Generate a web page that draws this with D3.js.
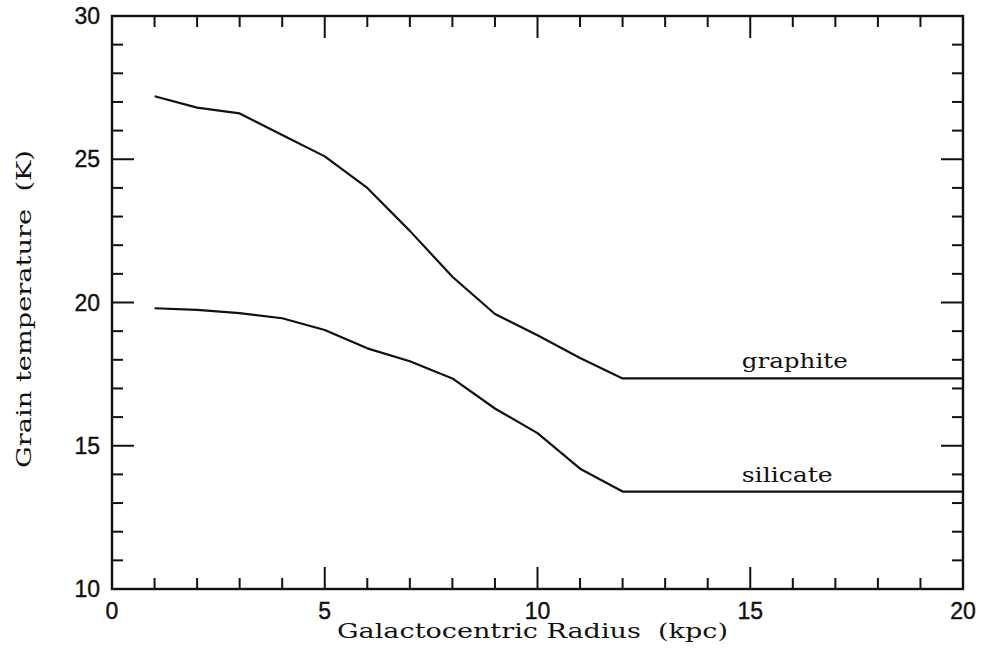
<!DOCTYPE html>
<html><head><meta charset="utf-8">
<script src="https://cdn.jsdelivr.net/npm/d3@7"></script>
<style>body{margin:0;background:#fff}svg{display:block}</style>
</head><body>
<svg id="c" width="982" height="653"></svg>
<script>
const radius = [1,2,3,4,5,6,7,8,9,10,11,12,20];
const graphite = [27.2,26.8,26.6,25.85,25.1,24.0,22.5,20.9,19.6,18.86,18.06,17.35,17.35];
const silicate = [19.8,19.74,19.63,19.45,19.04,18.4,17.95,17.35,16.3,15.44,14.2,13.4,13.4];
const xTicks = [0,5,10,15,20];
const yTicks = [10,15,20,25,30];
const seriesLabels = [{name:"graphite", x:14.8, y:17.35, w:106}, {name:"silicate", x:14.8, y:13.4, w:91}];

const svg = d3.select("#c");
const L=112, R=963, T=16, B=589;
const x = d3.scaleLinear().domain([0,20]).range([L,R]);
const y = d3.scaleLinear().domain([10,30]).range([B,T]);
const serif = "'DejaVu Serif', serif";
const sans = "'Liberation Sans', Arial, sans-serif";
const ink = "#111";

// frame
svg.append("rect").attr("x",L).attr("y",T).attr("width",R-L).attr("height",B-T)
  .attr("fill","none").attr("stroke",ink).attr("stroke-width",2.4);

const xMinor = d3.range(0,21,1), yMinor = d3.range(10,31,1);
xMinor.forEach(v=>{
  const len = v%5===0?22:11;
  svg.append("line").attr("x1",x(v)).attr("x2",x(v)).attr("y1",B).attr("y2",B-len).attr("stroke",ink).attr("stroke-width",2);
  svg.append("line").attr("x1",x(v)).attr("x2",x(v)).attr("y1",T).attr("y2",T+len).attr("stroke",ink).attr("stroke-width",2);
});
yMinor.forEach(v=>{
  const len = v%5===0?22:11;
  svg.append("line").attr("y1",y(v)).attr("y2",y(v)).attr("x1",L).attr("x2",L+len).attr("stroke",ink).attr("stroke-width",2);
  svg.append("line").attr("y1",y(v)).attr("y2",y(v)).attr("x1",R).attr("x2",R-len).attr("stroke",ink).attr("stroke-width",2);
});

// tick labels
svg.append("g").selectAll("text").data(xTicks).join("text")
  .attr("x",d=>x(d)).attr("y",619).attr("text-anchor","middle")
  .attr("font-family",sans).attr("font-size",23).attr("fill",ink)
  .attr("stroke",ink).attr("stroke-width",0.4)
  .text(d=>d);
svg.append("g").selectAll("text").data(yTicks).join("text")
  .attr("x",100).attr("y",d=>y(d)+8).attr("text-anchor","end")
  .attr("font-family",sans).attr("font-size",23).attr("fill",ink)
  .attr("stroke",ink).attr("stroke-width",0.4)
  .text(d=>d);

// axis titles
svg.append("text").attr("x",337).attr("y",638)
  .attr("font-family",serif).attr("font-size",20).attr("fill",ink)
  .attr("textLength",391).attr("lengthAdjust","spacingAndGlyphs")
  .attr("xml:space","preserve").text("Galactocentric Radius  (kpc)");
svg.append("text").attr("transform","translate(31,468) rotate(-90)")
  .attr("font-family",serif).attr("font-size",20).attr("fill",ink)
  .attr("textLength",318).attr("lengthAdjust","spacingAndGlyphs")
  .attr("xml:space","preserve").text("Grain temperature  (K)");

// curves
const line = d3.line().x(d=>x(d[0])).y(d=>y(d[1]));
[graphite, silicate].forEach(s=>{
  svg.append("path").attr("d", line(radius.map((r,i)=>[r,s[i]])))
    .attr("fill","none").attr("stroke",ink).attr("stroke-width",2.2).attr("stroke-linejoin","round");
});

// series labels
svg.append("g").selectAll("text").data(seriesLabels).join("text")
  .attr("x",d=>x(d.x)).attr("y",d=>y(d.y)-10)
  .attr("font-family",serif).attr("font-size",20).attr("fill",ink)
  .attr("textLength",d=>d.w).attr("lengthAdjust","spacingAndGlyphs")
  .text(d=>d.name);
</script>
</body></html>
